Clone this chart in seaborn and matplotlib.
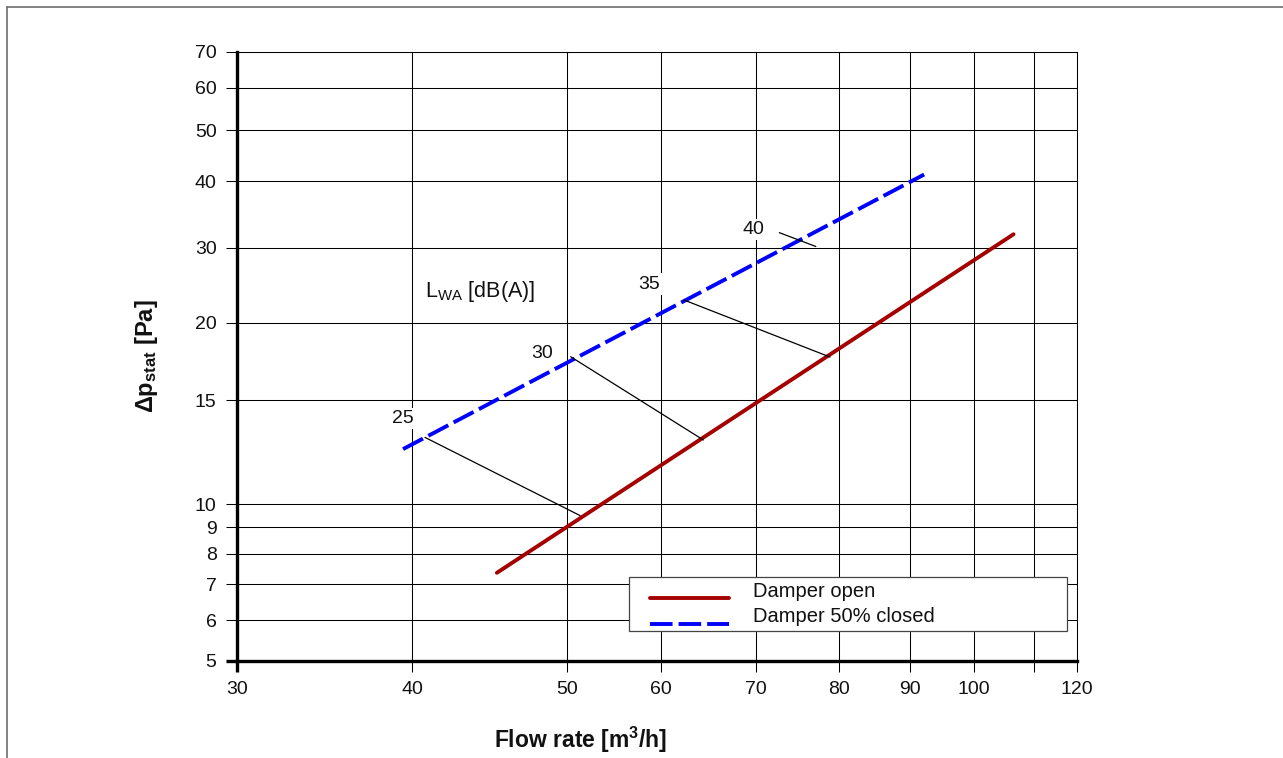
import numpy as np
import pandas as pd
import matplotlib
matplotlib.use("Agg")
import matplotlib.pyplot as plt
import seaborn as sns
from matplotlib.lines import Line2D
from matplotlib.legend_handler import HandlerLine2D
from matplotlib.ticker import NullLocator

# ---------------- data ----------------
SERIES = ["Damper open", "Damper 50% closed"]
OPEN_FLOW = [45.2, 106.5]
OPEN_DP = [7.36, 31.8]
CLOSED_FLOW = [39.4, 92.1]
CLOSED_DP = [12.4, 41.2]

LEVELS = ["25", "30", "35", "40"]
LEVEL_FLOW_START = [40.74, 50.38, 62.26, 72.68]
LEVEL_DP_START = [12.98, 17.63, 22.61, 32.02]
LEVEL_FLOW_END = [51.30, 64.25, 78.85, 77.07]
LEVEL_DP_END = [9.49, 12.85, 17.61, 30.16]
LEVEL_LABEL_FLOW = [39.37, 48.28, 58.57, 69.7]
LEVEL_LABEL_DP = [13.98, 17.81, 24.65, 32.44]

LWA_TEXT = r"L$_{\mathrm{WA}}$ [dB(A)]"
LWA_FLOW = 40.74
LWA_DP = 23.65

X_TICKS = [30, 40, 50, 60, 70, 80, 90, 100, 110, 120]
X_TICK_LABELS = ["30", "40", "50", "60", "70", "80", "90", "100", "", "120"]
Y_TICKS = [5, 6, 7, 8, 9, 10, 15, 20, 30, 40, 50, 60, 70]
Y_TICK_LABELS = [str(v) for v in Y_TICKS]

# ---------------- layout of the printed grid (fraction of axis length) ----------------
X_GRID_FRAC = [0, 0.2090, 0.3929, 0.5055, 0.6182, 0.7170, 0.8016, 0.8781, 0.9488, 1.0]
Y_GRID_FRAC = [0, 0.0668, 0.1259, 0.1761, 0.2199, 0.2572, 0.4279, 0.5552,
               0.6783, 0.7873, 0.8710, 0.9409, 1.0]

RED = "#A50000"
BLUE = "#0000FF"
TXT = "#111111"


def grid_scale(ticks, fracs):
    """Log-type scale that follows the chart's printed grid."""
    L = np.log(np.asarray(ticks, float))
    F = np.asarray(fracs, float)
    s0 = (F[1] - F[0]) / (L[1] - L[0])
    s1 = (F[-1] - F[-2]) / (L[-1] - L[-2])
    L = np.concatenate([[L[0] - 20], L, [L[-1] + 20]])
    F = np.concatenate([[F[0] - 20 * s0], F, [F[-1] + 20 * s1]])

    def fwd(v):
        v = np.asarray(v, float)
        l = np.log(np.where(v > 0, v, 1e-300))
        return np.interp(l, L, F)

    def inv(f):
        return np.exp(np.interp(np.asarray(f, float), F, L))

    return fwd, inv


class OffsetLineHandler(HandlerLine2D):
    def __init__(self, dx=0.0, dy=0.0, **kw):
        super().__init__(xpad=dx, **kw)
        self._dy = dy

    def create_artists(self, legend, orig_handle, xdescent, ydescent, width,
                       height, fontsize, trans):
        arts = super().create_artists(legend, orig_handle, xdescent, ydescent,
                                      width, height, fontsize, trans)
        for a in arts:
            a.set_ydata(np.asarray(a.get_ydata(), float) - self._dy * fontsize)
        return arts


sns.set_theme(style="white")
plt.rcParams["font.family"] = ["Liberation Sans", "DejaVu Sans"]
plt.rcParams["mathtext.fontset"] = "custom"
plt.rcParams["mathtext.rm"] = "Liberation Sans"
plt.rcParams["mathtext.it"] = "Liberation Sans:italic"
plt.rcParams["mathtext.bf"] = "Liberation Sans:bold"

fig = plt.figure(figsize=(12.83, 7.58), dpi=100)
ax = fig.add_axes([0.18449, 0.12797, 0.65472, 0.80383])

df = pd.DataFrame({
    "flow": OPEN_FLOW + CLOSED_FLOW,
    "dp": OPEN_DP + CLOSED_DP,
    "series": [SERIES[0]] * len(OPEN_FLOW) + [SERIES[1]] * len(CLOSED_FLOW),
})
sns.lineplot(data=df, x="flow", y="dp", hue="series", style="series",
             hue_order=SERIES, style_order=SERIES,
             palette={SERIES[0]: RED, SERIES[1]: BLUE},
             dashes={SERIES[0]: "", SERIES[1]: (5.8, 1.55)},
             linewidth=2.8, errorbar=None, legend=False, ax=ax, zorder=3)
series_lines = list(ax.lines[:2])

# iso sound-level connector lines
for i in range(len(LEVELS)):
    ax.plot([LEVEL_FLOW_START[i], LEVEL_FLOW_END[i]],
            [LEVEL_DP_START[i], LEVEL_DP_END[i]],
            color="black", lw=0.9, zorder=4)
    ax.text(LEVEL_LABEL_FLOW[i], LEVEL_LABEL_DP[i], LEVELS[i], fontsize=14,
            ha="center", va="center", color=TXT, zorder=6,
            bbox=dict(facecolor="white", edgecolor="none",
                      boxstyle="square,pad=0.12"))

ax.text(LWA_FLOW, LWA_DP, LWA_TEXT + "\u00a0" * 2, fontsize=15.5, ha="left",
        va="center", color=TXT, zorder=6,
        bbox=dict(facecolor="white", edgecolor="none",
                  boxstyle="square,pad=0.3"))

# scales
fx, ix = grid_scale(X_TICKS, X_GRID_FRAC)
fy, iy = grid_scale(Y_TICKS, Y_GRID_FRAC)
ax.set_xscale("function", functions=(fx, ix))
ax.set_yscale("function", functions=(fy, iy))
ax.set_xlim(X_TICKS[0], X_TICKS[-1])
ax.set_ylim(Y_TICKS[0], Y_TICKS[-1])
ax.set_xticks(X_TICKS, labels=X_TICK_LABELS)
ax.set_yticks(Y_TICKS, labels=Y_TICK_LABELS)
ax.xaxis.set_minor_locator(NullLocator())
ax.yaxis.set_minor_locator(NullLocator())

ax.set_xlabel("")
ax.set_ylabel("")
ax.set_axisbelow(True)
ax.grid(True, which="major", color="black", lw=0.75)
ax.tick_params(axis="both", which="major", direction="out", length=8,
               width=0.75, color="black", labelsize=14, labelcolor=TXT,
               bottom=True, left=True)
ax.tick_params(axis="x", pad=6.5)
ax.tick_params(axis="y", pad=6.5)
for s in ["left", "bottom"]:
    ax.spines[s].set_linewidth(2.4)
    ax.spines[s].set_color("black")
for s in ["top", "right"]:
    ax.spines[s].set_linewidth(0.75)
    ax.spines[s].set_color("black")
ax.xaxis.get_major_ticks()[0].tick1line.set_markeredgewidth(2.4)
ax.yaxis.get_major_ticks()[0].tick1line.set_markeredgewidth(2.4)

leg = ax.legend(handles=series_lines, labels=SERIES, loc="upper left",
                bbox_to_anchor=(0.467, 0.0537, 0.5218, 0.0837), mode="expand",
                borderaxespad=0, borderpad=0.21, labelspacing=0.34,
                handlelength=4.76, handletextpad=1.2, fontsize=14.5,
                frameon=True, fancybox=False, framealpha=1,
                edgecolor="#444444", facecolor="white",
                handler_map={Line2D: OffsetLineHandler(dx=0.83, dy=0.43)})
leg.get_frame().set_linewidth(0.9)
leg.set_zorder(10)
for t in leg.get_texts():
    t.set_color(TXT)

fig.text(580.5 / 1283, 1 - 740 / 758, r"Flow rate [m$^{\mathbf{3}}$/h]",
         fontsize=16.5, fontweight="bold", ha="center", va="center",
         color=TXT)
fig.text(146 / 1283, 1 - 356 / 758, r"Δp$_{\mathbf{stat}}$ [Pa]",
         fontsize=17, fontweight="bold", ha="center", va="center",
         rotation=90, color=TXT)

# outer frame of the figure
fx0 = 6.7 / 1283
fy0 = 1 - 7.3 / 758
fig.add_artist(Line2D([fx0, 1], [fy0, fy0], transform=fig.transFigure,
                      color="#6e6e6e", lw=1.2))
fig.add_artist(Line2D([fx0, fx0], [fy0, 0], transform=fig.transFigure,
                      color="#6e6e6e", lw=1.2))

fig.savefig("out.png", dpi=100)
